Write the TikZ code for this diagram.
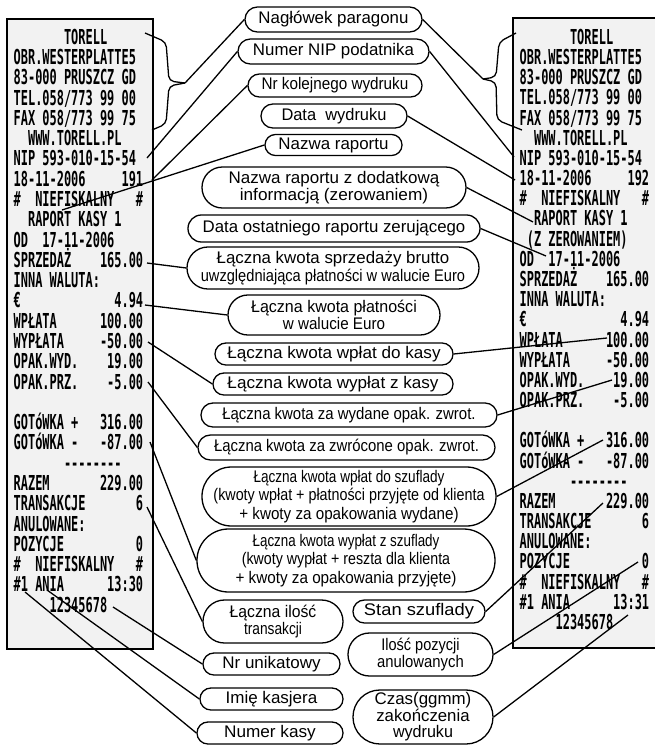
\documentclass[tikz,border=0pt]{standalone}
\usepackage{fontspec}
\usepackage{graphicx}
\setmainfont{Liberation Sans}
\newfontfamily\rcptfont[FakeStretch=0.58]{DejaVu Sans Mono}
\newcommand\fw[2]{\resizebox{#1pt}{\height}{#2}}
\newcommand\dsh{\mbox{-}}
\newcommand\lln[2]{\node[rtxt] (l#1) at (13.5,{44.3+20.28*(#1-1)}) {#2};}
\newcommand\rrn[2]{\node[rtxt] (r#1) at (519.5,{44.3+20.18*(#1-1)}) {#2};}
\begin{document}
\begin{tikzpicture}[x=1pt,y=-1pt,
  rtxt/.style={anchor=base west, inner sep=0pt, font=\rcptfont\bfseries\fontsize{20.6}{20.6}\selectfont},
  rbox/.style={draw, line width=1.7pt, fill=gray!10},
  lab/.style 2 args={draw, fill=white, line width=1.3pt, inner sep=0pt, align=center,
     minimum width=#1, minimum height=#2, rounded corners={#2/2-0.1},
     font=\fontsize{16.8}{17}\selectfont},
  conn/.style={line width=1.3pt},
  brc/.style={line width=1.3pt, rounded corners=5pt}]
\useasboundingbox (0,0) rectangle (655,745);
% receipts
\draw[rbox] (7,19) rectangle (153,649);
\draw[rbox] (513,18) rectangle (658,648);
% left receipt
\lln{1}{~~~~~~~TORELL}
\lln{2}{OBR.WESTERPLATTE5}
\lln{3}{83-000~PRUSZCZ~GD}
\lln{4}{TEL.058/773~99~00}
\lln{5}{FAX~058/773~99~75}
\lln{6}{~~WWW.TORELL.PL}
\lln{7}{NIP~593-010-15-54}
\lln{8}{18-11-2006~~~~~191}
\lln{9}{\#~~NIEFISKALNY~~~\#}
\lln{10}{~~RAPORT~KASY~1}
\lln{11}{OD~~17-11-2006}
\lln{12}{SPRZEDAŻ~~~~165.00}
\lln{13}{INNA~WALUTA:}
\lln{14}{€~~~~~~~~~~~~~4.94}
\lln{15}{WPŁATA~~~~~~100.00}
\lln{16}{WYPŁATA~~~~~-50.00}
\lln{17}{OPAK.WYD.~~~~19.00}
\lln{18}{OPAK.PRZ.~~~~-5.00}
\lln{20}{GOTóWKA~+~~~316.00}
\lln{21}{GOTóWKA~-~~~-87.00}
\lln{22}{~~~~~~~\dsh\dsh\dsh\dsh\dsh\dsh\dsh\dsh}
\lln{23}{RAZEM~~~~~~~229.00}
\lln{24}{TRANSAKCJE~~~~~~~6}
\lln{25}{ANULOWANE:}
\lln{26}{POZYCJE~~~~~~~~~~0}
\lln{27}{\#~~NIEFISKALNY~~~\#}
\lln{28}{\#1~ANIA~~~~~~13:30}
\lln{29}{~~~~~12345678}
% right receipt
\rrn{1}{~~~~~~~TORELL}
\rrn{2}{OBR.WESTERPLATTE5}
\rrn{3}{83-000~PRUSZCZ~GD}
\rrn{4}{TEL.058/773~99~00}
\rrn{5}{FAX~058/773~99~75}
\rrn{6}{~~WWW.TORELL.PL}
\rrn{7}{NIP~593-010-15-54}
\rrn{8}{18-11-2006~~~~~192}
\rrn{9}{\#~~NIEFISKALNY~~~\#}
\rrn{10}{~~RAPORT~KASY~1}
\rrn{11}{~(Z~ZEROWANIEM)}
\rrn{12}{OD~~17-11-2006}
\rrn{13}{SPRZEDAŻ~~~~165.00}
\rrn{14}{INNA~WALUTA:}
\rrn{15}{€~~~~~~~~~~~~~4.94}
\rrn{16}{WPŁATA~~~~~~100.00}
\rrn{17}{WYPŁATA~~~~~-50.00}
\rrn{18}{OPAK.WYD.~~~~19.00}
\rrn{19}{OPAK.PRZ.~~~~-5.00}
\rrn{21}{GOTóWKA~+~~~316.00}
\rrn{22}{GOTóWKA~-~~~-87.00}
\rrn{23}{~~~~~~~\dsh\dsh\dsh\dsh\dsh\dsh\dsh\dsh}
\rrn{24}{RAZEM~~~~~~~229.00}
\rrn{25}{TRANSAKCJE~~~~~~~6}
\rrn{26}{ANULOWANE:}
\rrn{27}{POZYCJE~~~~~~~~~~0}
\rrn{28}{\#~~NIEFISKALNY~~~\#}
\rrn{29}{\#1~ANIA~~~~~~13:31}
\rrn{30}{~~~~~12345678}
% anchor points on receipts
\coordinate (bL) at (185,83);
\coordinate (bR) at (483,79);
\coordinate (lnip) at (147,158);
\coordinate (lnum) at (152,180);
\coordinate (lrap) at (62,210);
\coordinate (lsprz) at (147,263);
\coordinate (leur) at (145,305);
\coordinate (lwypl) at (148,342);
\coordinate (lprz) at (148,382);
\coordinate (lgotm) at (150,442);
\coordinate (ltrans) at (147,507);
\coordinate (lunik) at (113,607);
\coordinate (lania) at (47,590);
\coordinate (lkasa) at (25,592);
\coordinate (rnip) at (514,157);
\coordinate (rdata) at (515,180);
\coordinate (rrap) at (533,222);
\coordinate (rod) at (546,256);
\coordinate (rwpl) at (607,338);
\coordinate (rwyd) at (612,380);
\coordinate (rgotp) at (603,440);
\coordinate (rrazem) at (603,503);
\coordinate (rpoz) at (638,562);
\coordinate (rczas) at (628,615);
% braces
\draw[brc] (145,33) -- (166,42) -- (169,81) -- (bL);
\draw[brc] (bL) -- (169,86) -- (166,124) -- (152,130);
\draw[brc] (516,33) -- (499,42) -- (496,77) -- (bR);
\draw[brc] (bR) -- (496,82) -- (497,120) -- (522,130);
% labels
\node[lab={177}{25}] (nagl) at (333.5,19.5) {\fw{150}{Nagłówek paragonu}};
\node[lab={191}{25}] (nip) at (333.5,51.5) {\fw{161}{Numer NIP podatnika}};
\node[lab={174}{23}] (nrkol) at (335,85.5) {\fw{146.7}{Nr kolejnego wydruku}};
\node[lab={146}{24}] (data) at (334,116) {\fw{105}{Data~~wydruku}};
\node[lab={137}{21}] (nazwa) at (333.5,145) {\fw{110}{Nazwa raportu}};
\node[lab={264}{41}, font=\fontsize{16.8}{16.5}\selectfont] (nazwaz) at (334,187.5)
  {\fw{210.7}{Nazwa raportu z dodatkową}\\\fw{188.3}{informacją (zerowaniem)}};
\node[lab={292}{27}] (dataost) at (334,228.5) {\fw{262.7}{Data ostatniego raportu zerującego}};
\node[lab={292}{42}, font=\fontsize{16.8}{18}\selectfont] (sprz) at (333,268)
  {\fw{232.7}{Łączna kwota sprzedaży brutto}\\\fw{264.3}{uwzględniająca płatności w walucie Euro}};
\node[lab={212}{40}, font=\fontsize{16.8}{16.5}\selectfont] (plat) at (334,315)
  {\fw{165.7}{Łączna kwota płatności}\\\fw{102.3}{w walucie Euro}};
\node[lab={238}{22}] (wplk) at (334,354) {\fw{213.3}{Łączna kwota wpłat do kasy}};
\node[lab={240}{22}] (wypk) at (333,384) {\fw{211}{Łączna kwota wypłat z kasy}};
\node[lab={296}{24}] (wyd) at (349,415) {\fw{253.3}{Łączna kwota za wydane opak. zwrot.}};
\node[lab={297}{25}] (zwr) at (346.5,447.5) {\fw{265}{Łączna kwota za zwrócone opak. zwrot.}};
\node[lab={294}{59}, font=\fontsize{16.8}{18.5}\selectfont] (wplsz) at (349,496.5)
  {\fw{191}{Łączna kwota wpłat do szuflady}\\\fw{271}{(kwoty wpłat + płatności przyjęte od klienta}\\\fw{219.3}{+ kwoty za opakowania wydane)}};
\node[lab={298}{63}, font=\fontsize{16.8}{18.5}\selectfont] (wypsz) at (346,560.5)
  {\fw{186.7}{Łączna kwota wypłat z szuflady}\\\fw{208.3}{(kwoty wypłat + reszta dla klienta}\\\fw{221}{+ kwoty za opakowania przyjęte)}};
\node[lab={140}{43}, font=\fontsize{16.8}{16.5}\selectfont] (trans) at (273,621.5)
  {\fw{86.7}{Łączna ilość}\\\fw{58}{transakcji}};
\node[lab={132}{23}] (stan) at (419,611.5) {\fw{110}{Stan szuflady}};
\node[lab={145}{43}, font=\fontsize{16.8}{15.5}\selectfont] (anul) at (420.5,654.5)
  {\fw{78.3}{Ilość pozycji}\\\fw{86.7}{anulowanych}};
\node[lab={137}{22}] (unik) at (271.5,664) {\fw{98.3}{Nr unikatowy}};
\node[lab={143}{22}] (imie) at (271.5,699) {\fw{91.7}{Imię kasjera}};
\node[lab={140}{54}, font=\fontsize{16.8}{16.5}\selectfont] (czas) at (423,717)
  {\fw{96.7}{Czas(ggmm)}\\\fw{93.3}{zakończenia}\\\fw{60}{wydruku}};
\node[lab={146}{22}] (kasa) at (270,733) {\fw{91.7}{Numer kasy}};
% connectors
\draw[conn] (nagl.west) -- (bL);
\draw[conn] (nagl.east) -- (bR);
\draw[conn] (nip.west) -- (lnip);
\draw[conn] (nip.east) -- (rnip);
\draw[conn] (nrkol.west) -- (lnum);
\draw[conn] (data.east) -- (rdata);
\draw[conn] (nazwa.west) -- (lrap);
\draw[conn] (nazwaz.east) -- (rrap);
\draw[conn] (dataost.east) -- (rod);
\draw[conn] (sprz.west) -- (lsprz);
\draw[conn] (plat.west) -- (leur);
\draw[conn] (wplk.east) -- (rwpl);
\draw[conn] (wypk.west) -- (lwypl);
\draw[conn] (wyd.east) -- (rwyd);
\draw[conn] (zwr.west) -- (lprz);
\draw[conn] (wplsz.east) -- (rgotp);
\draw[conn] (wypsz.west) -- (lgotm);
\draw[conn] (trans.west) -- (ltrans);
\draw[conn] (stan.east) -- (rrazem);
\draw[conn] (anul.east) -- (rpoz);
\draw[conn] (unik.west) -- (lunik);
\draw[conn] (imie.west) -- (lania);
\draw[conn] (czas.east) -- (rczas);
\draw[conn] (kasa.west) -- (lkasa);
\end{tikzpicture}
\end{document}
